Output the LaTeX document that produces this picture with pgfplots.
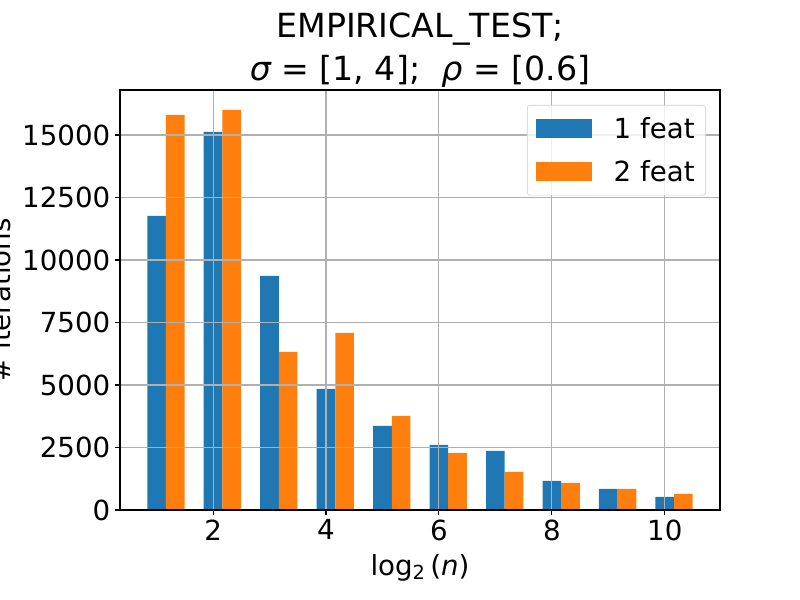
\documentclass[border=0pt]{standalone}
\usepackage{fontspec}
\setmainfont{DejaVu Sans}
\usepackage{pgfplots}
\pgfplotsset{compat=1.18}
\definecolor{c1}{HTML}{1F77B4}
\definecolor{c2}{HTML}{FF7F0E}
\definecolor{gridc}{HTML}{B0B0B0}
\definecolor{legc}{HTML}{CCCCCC}
\begin{document}
\begin{tikzpicture}
\useasboundingbox (0,0) rectangle (8in,6in);
\begin{axis}[
  at={(1.2in,0.9in)}, anchor=south west,
  scale only axis, width=6in, height=4.2in,
  xmin=0.352, xmax=10.978, ymin=0, ymax=16800,
  xtick={2,4,6,8,10}, ytick={0,2500,5000,7500,10000,12500,15000},
  scaled y ticks=false,
  yticklabel style={/pgf/number format/1000 sep={}},
  /pgf/number format/assume math mode=true,
  ticklabel style={font=\fontsize{20}{24}\selectfont},
  tick align=outside, major tick length=3.5pt,
  tick style={line width=0.8pt, black},
  axis line style={line width=0.8pt},
  xtick pos=bottom, ytick pos=left,
  grid=major, major grid style={gridc, line width=0.8pt},
  axis on top=true,
  title={EMPIRICAL\_TEST;\\{\itshape σ} = [1, 4];\ \ {\itshape ρ} = [0.6]},
  title style={at={(axis description cs:0.5,1)}, anchor=south, inner sep=0pt, yshift=-4pt,
    align=center, font=\fontsize{24}{31}\selectfont},
  xlabel={log\textsubscript{2}\,(\textit{n})},
  xlabel style={at={(axis description cs:0.5,-0.1548)}, anchor=base, font=\fontsize{20}{24}\selectfont},
  ylabel={\# iterations},
  ylabel style={at={(axis description cs:-0.1825,0.5)}, anchor=base, font=\fontsize{20}{24}\selectfont},
  legend style={at={(1,1)}, anchor=north east, xshift=-0.14in, yshift=-0.15in,
    draw=legc, fill=white, fill opacity=0.8, draw opacity=1, text opacity=1,
    rounded corners=2pt, font=\fontsize{20}{24}\selectfont,
    inner xsep=6pt, inner ysep=6.5pt, row sep=10.5pt, column sep=14pt,
    nodes={inner sep=2pt}},
  legend cell align=left,
  legend image code/.code={\fill[#1, fill opacity=1, sharp corners] (0in,-0.095in) rectangle (0.56in,0.095in);},
]
\addplot[ybar, bar width=0.33, bar shift=0, fill=c1, draw=none] coordinates {
  (1,11760) (2,15120) (3,9360) (4,4840) (5,3360) (6,2600) (7,2360) (8,1160) (9,840) (10,520)
};
\addlegendentry{1 feat}
\addplot[ybar, bar width=0.33, bar shift=0, fill=c2, draw=none] coordinates {
  (1.33,15800) (2.33,16000) (3.33,6320) (4.33,7080) (5.33,3760) (6.33,2280) (7.33,1520) (8.33,1080) (9.33,840) (10.33,640)
};
\addlegendentry{2 feat}
\end{axis}
\end{tikzpicture}
\end{document}
